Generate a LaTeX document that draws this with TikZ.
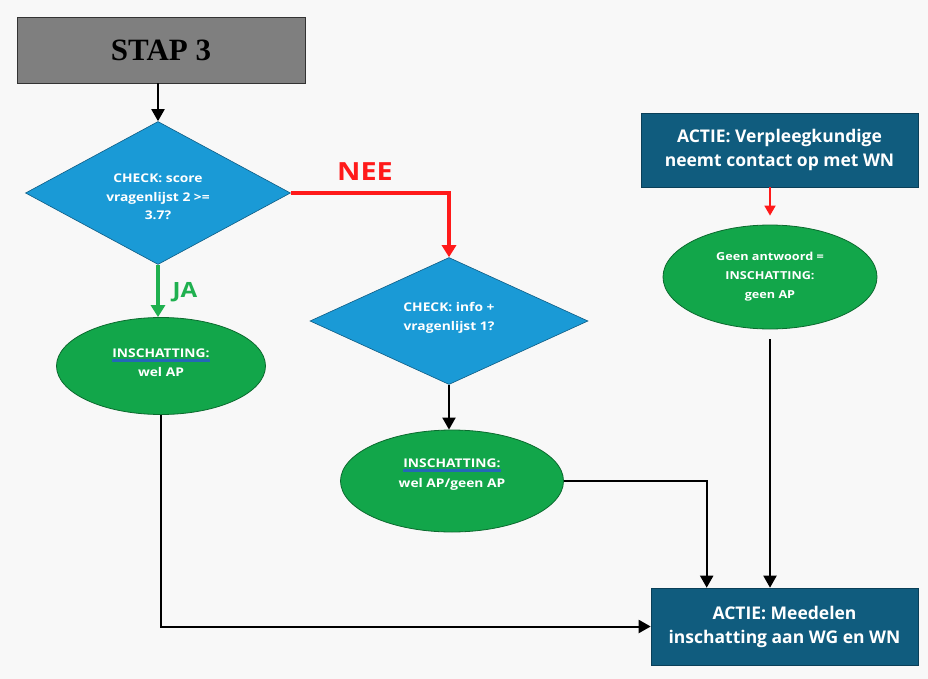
\documentclass[tikz,border=0pt]{standalone}
\usepackage{fontspec}
\setmainfont{Liberation Serif}
\newfontfamily\labelfont{Open Sans}
\newfontfamily\widefont[FakeStretch=1.15]{Open Sans}
\usetikzlibrary{shapes.geometric,arrows.meta,calc}
\definecolor{pagebg}{HTML}{F8F8F8}
\definecolor{stapgray}{HTML}{7F7F7F}
\definecolor{checkblue}{HTML}{1A9AD6}
\definecolor{checkedge}{HTML}{0E5C84}
\definecolor{estgreen}{HTML}{12A64A}
\definecolor{estedge}{HTML}{0B6A2E}
\definecolor{actieblue}{HTML}{105C7E}
\definecolor{actieedge}{HTML}{0A3F58}
\definecolor{neered}{HTML}{FF1A1A}
\definecolor{jagreen}{HTML}{1FB04F}
\definecolor{ulblue}{HTML}{2468B8}
\tikzset{
  x=1pt, y=-1pt,
  stapbox/.style={draw=black!80, line width=0.8pt, fill=stapgray,
    minimum width=288pt, minimum height=66pt, inner sep=0pt,
    font=\fontsize{31}{33}\selectfont\bfseries},
  checkdiamond/.style={diamond, draw=checkedge, line width=0.6pt, fill=checkblue,
    inner sep=0pt},
  checktext/.style={text=white, align=center, inner sep=0pt,
    font=\widefont\fontsize{12}{18.5}\selectfont\bfseries},
  estimate/.style={ellipse, draw=estedge, line width=0.8pt, fill=estgreen,
    minimum width=209pt, minimum height=97pt, inner sep=0pt, text=white, align=center,
    font=\widefont\fontsize{11}{19}\selectfont\bfseries},
  esttext/.style={text=white, inner sep=0pt, anchor=base,
    font=\widefont\fontsize{12}{18}\selectfont\bfseries},
  estrule/.style={draw=ulblue, line width=2.4pt},
  actiebox/.style={draw=actieedge, line width=0.6pt, fill=actieblue, inner sep=0pt,
    text=white, align=center,
    font=\labelfont\fontsize{17.5}{24}\selectfont\bfseries},
  flow/.style={draw=black, line width=2pt, -{Triangle[length=12pt,width=13pt]}},
  noflow/.style={draw=neered, line width=3.2pt, -{Triangle[length=12pt,width=14pt]}},
  yesflow/.style={draw=jagreen, line width=3.2pt, -{Triangle[length=12pt,width=14pt]}},
}
\begin{document}
\begin{tikzpicture}
  % page
  \fill[pagebg] (0,0) rectangle (928,679);
  \useasboundingbox (0,0) rectangle (928,679);

  % start box
  \node[stapbox] (stap) at (161,50) {STAP 3};

  % first check
  \node[checkdiamond, minimum width=265pt, minimum height=143pt] (d1) at (158,193) {};
  \node[checktext] (d1text) at (158,197) {CHECK: score\\vragenlijst 2 >=\\3.7?};

  % estimate after JA
  \node[estimate] (e1) at (161,366) {};
  \node[esttext] (e1head) at (161,357) {INSCHATTING:};
  \draw[estrule] ($(e1head.south west)+(0,3)$) -- ($(e1head.south east)+(0,3)$);
  \node[esttext] (e1body) at (161,376) {wel AP};

  % second check
  \node[checkdiamond, minimum width=278pt, minimum height=127pt] (d2) at (449,321) {};
  \node[checktext] (d2text) at (449,318) {CHECK: info +\\vragenlijst 1?};

  % estimate after second check
  \node[estimate, minimum width=223pt, minimum height=102pt] (e2) at (452,481) {};
  \node[esttext] (e2head) at (452,467) {INSCHATTING:};
  \draw[estrule] ($(e2head.south west)+(0,3)$) -- ($(e2head.south east)+(0,3)$);
  \node[esttext] (e2body) at (452,487) {wel AP/geen AP};

  % contact branch
  \node[actiebox, minimum width=277pt, minimum height=74pt] (a1) at (779.5,150)
    {ACTIE: Verpleegkundige\\neemt contact op met WN};
  \node[estimate, minimum width=214pt, minimum height=104pt] (e3) at (770,277)
    {Geen antwoord =\\INSCHATTING:\\geen AP};

  % final action
  \node[actiebox, minimum width=267pt, minimum height=77pt] (a2) at (784.5,626.5)
    {ACTIE: Meedelen\\inschatting aan WG en WN};

  % connectors
  \draw[flow] (stap.south -| d1.north) -- (d1.north);
  \draw[noflow] (d1.east) -| (d2.north);
  \node[text=neered, font=\widefont\fontsize{25}{27}\selectfont\bfseries]
    (nee) at (365,172) {NEE};
  \draw[yesflow] (d1.south) -- (d1.south |- e1.north);
  \node[text=jagreen, font=\widefont\fontsize{21}{23}\selectfont\bfseries]
    (ja) at (185,292) {JA};
  \draw[flow] (d2.south) -- (d2.south |- e2.north);
  \draw[flow] (e1.south) |- (a2.west);
  \draw[flow] (e2.east) -| ($(a2.north west)+(56,0)$);
  \draw[draw=neered, line width=1.8pt, -{Triangle[length=10pt,width=11pt]}, shorten >=9pt]
    (a1.south -| e3.north) -- (e3.north);
  \draw[flow, shorten <=10pt] (e3.south) -- (e3.south |- a2.north);
\end{tikzpicture}
\end{document}
